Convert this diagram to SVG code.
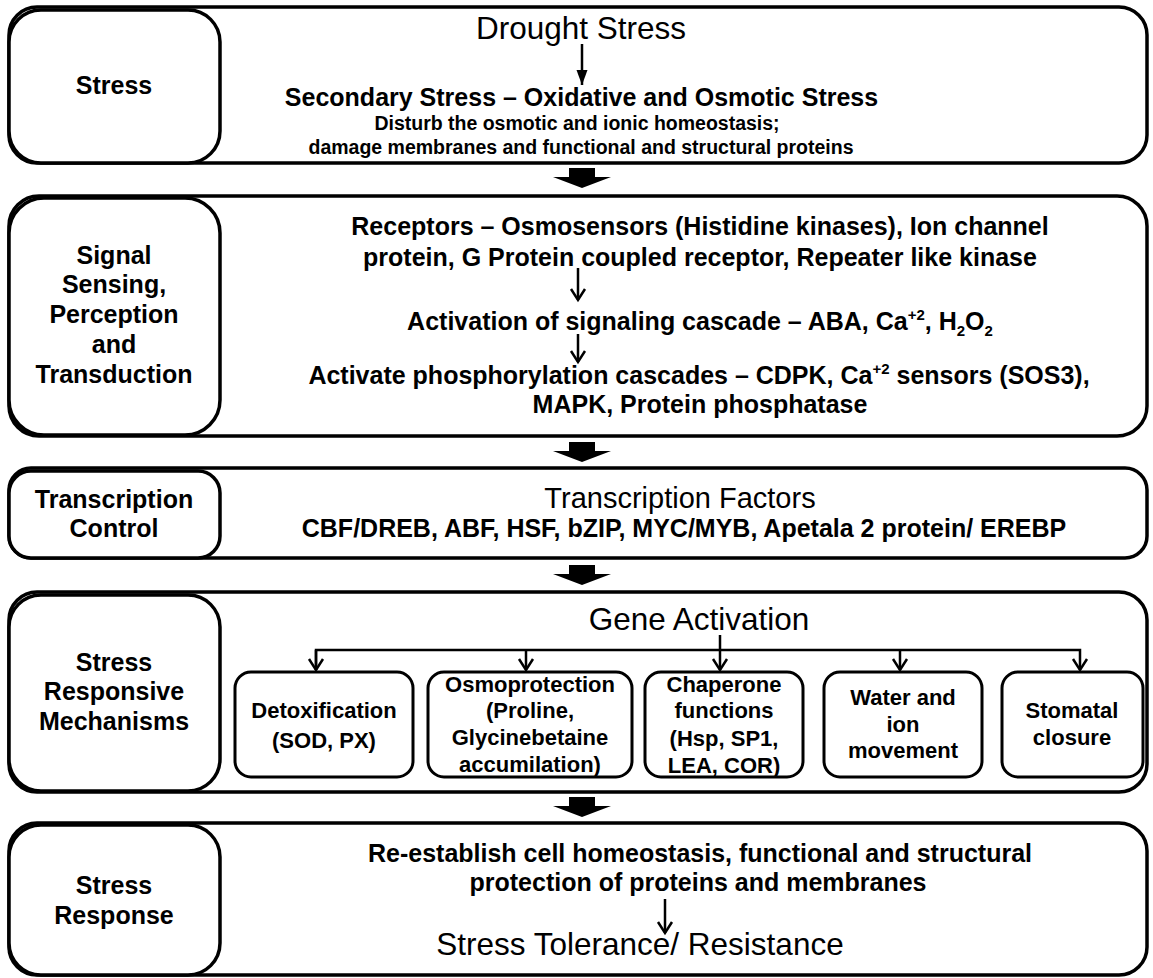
<svg xmlns="http://www.w3.org/2000/svg" width="1153" height="978" viewBox="0 0 1153 978">
<style>
.box{fill:#fff;stroke:#000;stroke-width:3.5}
.sub{fill:#fff;stroke:#000;stroke-width:3}
text{font-family:"Liberation Sans",Arial,sans-serif;fill:#000;text-anchor:middle}
.b{font-weight:bold;font-size:25px}
.big{font-weight:normal;font-size:31.5px}
.sm{font-weight:bold;font-size:19.5px}
.st{font-weight:bold;font-size:22px}
.ln{fill:none;stroke:#000;stroke-width:2.5}
.blk{fill:#000}
</style>
<defs>
<marker id="chev" viewBox="-14 -10 16 20" refX="0" refY="0" markerWidth="16" markerHeight="20" markerUnits="userSpaceOnUse" orient="auto" overflow="visible">
<path d="M-11,-7 L0,0 L-11,7" fill="none" stroke="#000" stroke-width="2.5"/>
</marker>
<marker id="tri" viewBox="-16 -8 18 16" refX="0" refY="0" markerWidth="18" markerHeight="16" markerUnits="userSpaceOnUse" orient="auto" overflow="visible">
<path d="M-15,-5.5 L0,0 L-15,5.5 Z" fill="#000"/>
</marker>
</defs>

<g id="stress">
<rect class="box" x="9" y="7" width="1138" height="156" rx="28"/>
<rect class="box" x="9" y="10" width="211" height="153" rx="32"/>
<text class="b" x="114" y="94">Stress</text>
<text class="big" x="581" y="39">Drought Stress</text>
<text class="b" x="581.5" y="106">Secondary Stress – Oxidative and Osmotic Stress</text>
<text class="sm" x="577" y="130">Disturb the osmotic and ionic homeostasis;</text>
<text class="sm" x="581" y="154">damage membranes and functional and structural proteins</text>
</g>

<g id="signal">
<rect class="box" x="9" y="196" width="1138" height="240" rx="30"/>
<rect class="box" x="9" y="198" width="211" height="237" rx="35"/>
<text class="b" x="114" y="264">Signal</text>
<text class="b" x="114" y="293">Sensing,</text>
<text class="b" x="114" y="323">Perception</text>
<text class="b" x="114" y="353">and</text>
<text class="b" x="114" y="383">Transduction</text>
<text class="b" x="700" y="235">Receptors – Osmosensors (Histidine kinases), Ion channel</text>
<text class="b" x="700" y="266">protein, G Protein coupled receptor, Repeater like kinase</text>
<text class="b" x="700" y="330">Activation of signaling cascade – ABA, Ca<tspan font-size="15" dy="-10">+2</tspan><tspan dy="10">, H</tspan><tspan font-size="15" dy="6">2</tspan><tspan dy="-6">O</tspan><tspan font-size="15" dy="6">2</tspan></text>
<text class="b" x="699" y="384">Activate phosphorylation cascades – CDPK, Ca<tspan font-size="15" dy="-10">+2</tspan><tspan dy="10"> sensors (SOS3),</tspan></text>
<text class="b" x="700" y="413">MAPK, Protein phosphatase</text>
</g>

<g id="transcription">
<rect class="box" x="9" y="468" width="1138" height="90" rx="22"/>
<rect class="box" x="9" y="471" width="211" height="87" rx="22"/>
<text class="b" x="114" y="508">Transcription</text>
<text class="b" x="114" y="537">Control</text>
<text class="big" x="680" y="508" style="font-size:29px">Transcription Factors</text>
<text class="b" x="684" y="537">CBF/DREB, ABF, HSF, bZIP, MYC/MYB, Apetala 2 protein/ EREBP</text>
</g>

<g id="mechanisms">
<rect class="box" x="9" y="592" width="1138" height="200" rx="28"/>
<rect class="box" x="9" y="595" width="211" height="196" rx="32"/>
<text class="b" x="114" y="671">Stress</text>
<text class="b" x="114" y="700">Responsive</text>
<text class="b" x="114" y="730">Mechanisms</text>
<text class="big" x="699" y="630">Gene Activation</text>
</g>

<g id="detox">
<rect class="sub" x="235" y="672" width="178" height="105" rx="16"/>
<text class="st" x="324" y="718">Detoxification</text>
<text class="st" x="324" y="748">(SOD, PX)</text>
</g>
<g id="osmo">
<rect class="sub" x="428" y="672" width="204" height="105" rx="16"/>
<text class="st" x="530" y="692">Osmoprotection</text>
<text class="st" x="530" y="718">(Proline,</text>
<text class="st" x="530" y="745">Glycinebetaine</text>
<text class="st" x="530" y="772">accumilation)</text>
</g>
<g id="chaperone">
<rect class="sub" x="645" y="672" width="158" height="105" rx="16"/>
<text class="st" x="724" y="692">Chaperone</text>
<text class="st" x="724" y="718">functions</text>
<text class="st" x="724" y="746">(Hsp, SP1,</text>
<text class="st" x="724" y="773">LEA, COR)</text>
</g>
<g id="water">
<rect class="sub" x="824" y="672" width="158" height="105" rx="16"/>
<text class="st" x="903" y="705">Water and</text>
<text class="st" x="903" y="732">ion</text>
<text class="st" x="903" y="758">movement</text>
</g>
<g id="stomatal">
<rect class="sub" x="1002" y="672" width="141" height="105" rx="16"/>
<text class="st" x="1072" y="718">Stomatal</text>
<text class="st" x="1072" y="745">closure</text>
</g>

<g id="response">
<rect class="box" x="9" y="823" width="1138" height="152" rx="28"/>
<rect class="box" x="9" y="825" width="211" height="150" rx="32"/>
<text class="b" x="114" y="894">Stress</text>
<text class="b" x="114" y="924">Response</text>
<text class="b" x="700" y="862">Re-establish cell homeostasis, functional and structural</text>
<text class="b" x="698" y="891">protection of proteins and membranes</text>
<text class="big" x="640" y="955">Stress Tolerance/ Resistance</text>
</g>

<g id="connectors">
<path class="ln" d="M582,44 V85" marker-end="url(#tri)"/>
<path class="ln" d="M578,268 V300" marker-end="url(#chev)"/>
<path class="ln" d="M578,334 V362" marker-end="url(#chev)"/>
<path class="ln" d="M665,899 V933" marker-end="url(#chev)"/>
<path class="ln" d="M720,635 V670" marker-end="url(#chev)"/>
<path class="ln" d="M316,670 V650 H1080 V670" marker-end="url(#chev)"/>
<path class="ln" d="M316,650 V670" marker-end="url(#chev)"/>
<path class="ln" d="M526,650 V670" marker-end="url(#chev)"/>
<path class="ln" d="M900,650 V670" marker-end="url(#chev)"/>
<path class="blk" d="M569,168 H595 V177 H611 L582,188 L553,177 H569 Z"/>
<path class="blk" d="M569,442 H595 V451 H611 L582,462 L553,451 H569 Z"/>
<path class="blk" d="M569,565 H595 V574 H611 L582,585 L553,574 H569 Z"/>
<path class="blk" d="M569,797 H595 V806 H611 L582,817 L553,806 H569 Z"/>
</g>
</svg>
